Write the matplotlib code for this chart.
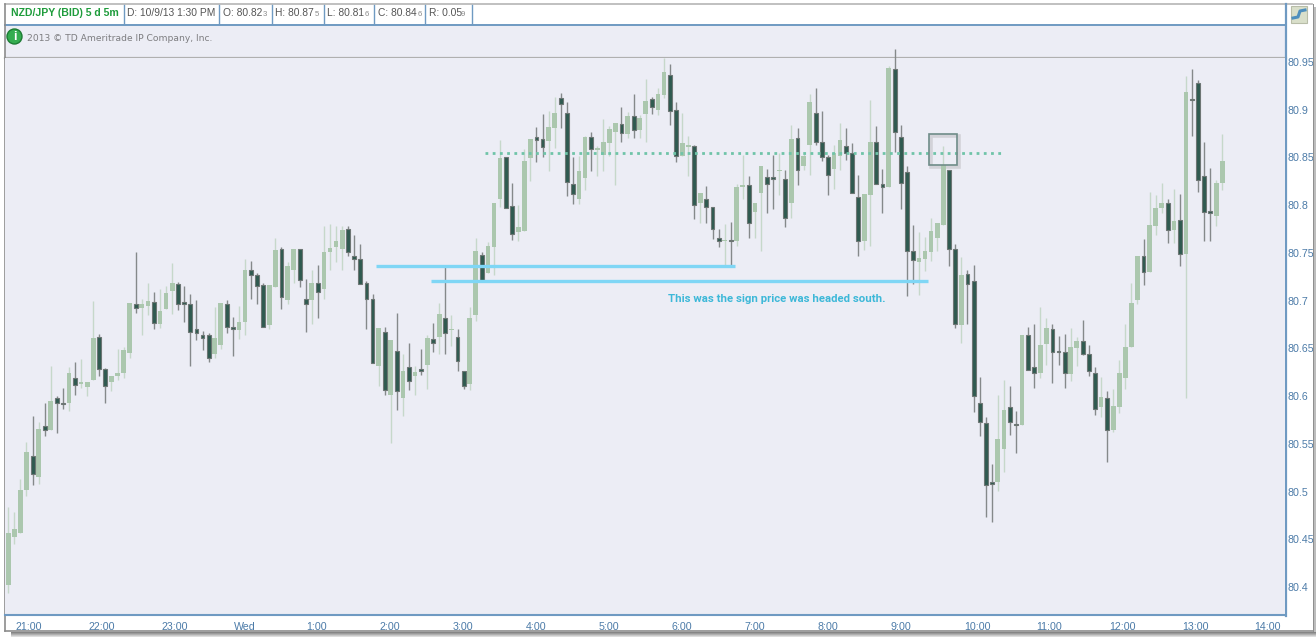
import matplotlib
matplotlib.use("Agg")
import matplotlib.pyplot as plt
from matplotlib.patches import Rectangle, Circle

# 5 minute bars, NZD/JPY
opens = [80.402, 80.452, 80.457, 80.502, 80.537, 80.515, 80.569, 80.565, 80.598, 80.593,
         80.593, 80.619, 80.613, 80.610, 80.617, 80.662, 80.628, 80.615, 80.621, 80.624,
         80.645, 80.697, 80.692, 80.694, 80.699, 80.676, 80.691, 80.710, 80.717, 80.699,
         80.697, 80.670, 80.664, 80.664, 80.644, 80.654, 80.696, 80.672, 80.669, 80.678,
         80.732, 80.727, 80.716, 80.675, 80.714, 80.754, 80.701, 80.732, 80.754, 80.702,
         80.701, 80.718, 80.712, 80.751, 80.756, 80.754, 80.775, 80.747, 80.744, 80.719,
         80.702, 80.632, 80.667, 80.601, 80.647, 80.598, 80.631, 80.621, 80.628, 80.633,
         80.660, 80.662, 80.682, 80.669, 80.662, 80.626, 80.613, 80.685, 80.748, 80.729,
         80.756, 80.807, 80.850, 80.799, 80.772, 80.773, 80.849, 80.871, 80.869, 80.867,
         80.881, 80.912, 80.897, 80.822, 80.806, 80.829, 80.871, 80.858, 80.853, 80.865,
         80.877, 80.885, 80.875, 80.893, 80.879, 80.896, 80.911, 80.900, 80.915, 80.936,
         80.900, 80.852, 80.861, 80.862, 80.802, 80.807, 80.798, 80.766, 80.762, 80.764,
         80.763, 80.819, 80.821, 80.793, 80.813, 80.830, 80.830, 80.836, 80.827, 80.802,
         80.870, 80.841, 80.863, 80.897, 80.866, 80.851, 80.838, 80.852, 80.862, 80.855,
         80.809, 80.762, 80.811, 80.866, 80.822, 80.819, 80.943, 80.871, 80.835, 80.752,
         80.741, 80.744, 80.751, 80.766, 80.779, 80.837, 80.754, 80.675, 80.728, 80.721,
         80.593, 80.572, 80.510, 80.510, 80.545, 80.589, 80.571, 80.570, 80.664, 80.630,
         80.624, 80.655, 80.670, 80.647, 80.646, 80.623, 80.650, 80.658, 80.644, 80.624,
         80.589, 80.598, 80.565, 80.589, 80.619, 80.651, 80.701, 80.747, 80.730, 80.778,
         80.797, 80.802, 80.774, 80.784, 80.749, 80.911, 80.928, 80.831, 80.794, 80.789, 80.823]
highs = [80.484, 80.479, 80.513, 80.552, 80.579, 80.573, 80.593, 80.632, 80.600, 80.608,
         80.630, 80.636, 80.639, 80.615, 80.700, 80.665, 80.629, 80.621, 80.649, 80.651,
         80.698, 80.751, 80.702, 80.718, 80.709, 80.712, 80.715, 80.739, 80.720, 80.715,
         80.707, 80.701, 80.668, 80.666, 80.693, 80.698, 80.701, 80.683, 80.694, 80.744,
         80.742, 80.729, 80.719, 80.716, 80.766, 80.756, 80.741, 80.754, 80.754, 80.723,
         80.732, 80.737, 80.778, 80.780, 80.778, 80.778, 80.778, 80.769, 80.759, 80.721,
         80.707, 80.671, 80.672, 80.659, 80.687, 80.644, 80.656, 80.632, 80.649, 80.664,
         80.677, 80.698, 80.736, 80.685, 80.670, 80.626, 80.693, 80.766, 80.751, 80.761,
         80.802, 80.868, 80.850, 80.823, 80.800, 80.859, 80.869, 80.882, 80.896, 80.899,
         80.913, 80.918, 80.908, 80.851, 80.852, 80.873, 80.877, 80.862, 80.890, 80.883,
         80.886, 80.903, 80.898, 80.916, 80.894, 80.932, 80.913, 80.923, 80.954, 80.948,
         80.908, 80.897, 80.872, 80.863, 80.813, 80.820, 80.798, 80.775, 80.780, 80.782,
         80.822, 80.853, 80.831, 80.802, 80.841, 80.838, 80.853, 80.855, 80.837, 80.884,
         80.881, 80.856, 80.917, 80.923, 80.899, 80.853, 80.863, 80.886, 80.881, 80.865,
         80.832, 80.812, 80.910, 80.883, 80.838, 80.946, 80.964, 80.884, 80.841, 80.779,
         80.772, 80.767, 80.787, 80.781, 80.862, 80.837, 80.759, 80.746, 80.732, 80.737,
         80.620, 80.578, 80.529, 80.601, 80.617, 80.611, 80.584, 80.664, 80.672, 80.676,
         80.693, 80.682, 80.676, 80.663, 80.665, 80.671, 80.662, 80.680, 80.654, 80.631,
         80.620, 80.605, 80.607, 80.638, 80.676, 80.719, 80.747, 80.765, 80.814, 80.811,
         80.823, 80.806, 80.817, 80.812, 80.935, 80.943, 80.931, 80.866, 80.839, 80.826, 80.875]
lows = [80.394, 80.445, 80.457, 80.495, 80.507, 80.508, 80.558, 80.565, 80.561, 80.586,
        80.584, 80.601, 80.608, 80.600, 80.617, 80.621, 80.593, 80.605, 80.617, 80.619,
        80.640, 80.687, 80.664, 80.685, 80.670, 80.671, 80.691, 80.686, 80.690, 80.678,
        80.632, 80.659, 80.648, 80.636, 80.640, 80.649, 80.666, 80.642, 80.660, 80.664,
        80.702, 80.696, 80.672, 80.670, 80.714, 80.691, 80.697, 80.718, 80.714, 80.667,
        80.676, 80.682, 80.702, 80.732, 80.741, 80.732, 80.747, 80.732, 80.717, 80.670,
        80.635, 80.611, 80.601, 80.551, 80.585, 80.579, 80.606, 80.601, 80.622, 80.607,
        80.646, 80.644, 80.644, 80.652, 80.626, 80.607, 80.606, 80.679, 80.722, 80.729,
        80.727, 80.798, 80.797, 80.764, 80.762, 80.773, 80.825, 80.845, 80.851, 80.836,
        80.860, 80.881, 80.810, 80.801, 80.801, 80.816, 80.836, 80.831, 80.836, 80.852,
        80.821, 80.866, 80.870, 80.870, 80.870, 80.866, 80.896, 80.895, 80.912, 80.884,
        80.845, 80.852, 80.831, 80.786, 80.781, 80.781, 80.765, 80.756, 80.736, 80.736,
        80.757, 80.807, 80.766, 80.766, 80.752, 80.792, 80.796, 80.811, 80.777, 80.787,
        80.821, 80.837, 80.832, 80.863, 80.846, 80.811, 80.817, 80.837, 80.847, 80.813,
        80.747, 80.753, 80.757, 80.822, 80.792, 80.819, 80.856, 80.796, 80.705, 80.717,
        80.706, 80.731, 80.742, 80.752, 80.779, 80.736, 80.671, 80.656, 80.676, 80.583,
        80.558, 80.473, 80.468, 80.501, 80.521, 80.559, 80.540, 80.570, 80.627, 80.608,
        80.619, 80.633, 80.614, 80.633, 80.608, 80.616, 80.632, 80.643, 80.621, 80.580,
        80.578, 80.531, 80.562, 80.582, 80.607, 80.651, 80.696, 80.716, 80.730, 80.769,
        80.792, 80.760, 80.760, 80.736, 80.598, 80.872, 80.814, 80.763, 80.763, 80.778, 80.816]
closes = [80.457, 80.461, 80.502, 80.541, 80.518, 80.566, 80.564, 80.595, 80.593, 80.592,
          80.624, 80.612, 80.615, 80.615, 80.661, 80.628, 80.611, 80.621, 80.624, 80.648,
          80.698, 80.692, 80.696, 80.700, 80.677, 80.689, 80.708, 80.718, 80.696, 80.697,
          80.667, 80.666, 80.661, 80.640, 80.661, 80.698, 80.672, 80.670, 80.678, 80.732,
          80.727, 80.715, 80.672, 80.716, 80.753, 80.704, 80.736, 80.754, 80.722, 80.697,
          80.718, 80.709, 80.751, 80.755, 80.763, 80.774, 80.751, 80.744, 80.717, 80.702,
          80.635, 80.671, 80.606, 80.659, 80.605, 80.626, 80.616, 80.625, 80.626, 80.661,
          80.656, 80.686, 80.666, 80.670, 80.637, 80.611, 80.682, 80.752, 80.722, 80.757,
          80.802, 80.849, 80.797, 80.770, 80.777, 80.846, 80.869, 80.868, 80.861, 80.882,
          80.897, 80.906, 80.824, 80.812, 80.836, 80.871, 80.859, 80.860, 80.866, 80.880,
          80.886, 80.876, 80.893, 80.879, 80.891, 80.909, 80.903, 80.917, 80.940, 80.899,
          80.852, 80.865, 80.863, 80.800, 80.813, 80.798, 80.775, 80.762, 80.764, 80.762,
          80.819, 80.821, 80.781, 80.802, 80.841, 80.822, 80.827, 80.837, 80.787, 80.869,
          80.837, 80.852, 80.908, 80.866, 80.851, 80.832, 80.855, 80.868, 80.855, 80.813,
          80.762, 80.812, 80.866, 80.822, 80.819, 80.944, 80.877, 80.823, 80.752, 80.743,
          80.745, 80.752, 80.773, 80.781, 80.842, 80.754, 80.676, 80.727, 80.717, 80.600,
          80.573, 80.507, 80.508, 80.555, 80.585, 80.573, 80.570, 80.664, 80.627, 80.624,
          80.654, 80.671, 80.646, 80.646, 80.624, 80.651, 80.658, 80.644, 80.626, 80.586,
          80.599, 80.565, 80.590, 80.624, 80.651, 80.698, 80.747, 80.730, 80.779, 80.797,
          80.802, 80.774, 80.783, 80.749, 80.919, 80.910, 80.826, 80.793, 80.792, 80.823, 80.846]

price_ticks = [80.4, 80.45, 80.5, 80.55, 80.6, 80.65, 80.7, 80.75, 80.8, 80.85, 80.9, 80.95]
price_labels = ["80.4", "80.45", "80.5", "80.55", "80.6", "80.65", "80.7", "80.75", "80.8", "80.85", "80.9", "80.95"]
time_ticks = [3.4, 15.4, 27.4, 39, 50.8, 62.9, 74.9, 86.9, 98.9, 111, 123, 135, 147, 159.6, 171.5, 183.5, 195.5, 207.4]
time_labels = ["21:00", "22:00", "23:00", "Wed", "1:00", "2:00", "3:00", "4:00", "5:00", "6:00",
               "7:00", "8:00", "9:00", "10:00", "11:00", "12:00", "13:00", "14:00"]

W, H = 1316, 637
BG = "#ecedf5"
BLUE = "#6f9ac2"
UP_BODY = "#abc7ae"
UP_WICK = "#c6d8ca"
DOWN_BODY = "#2f5a50"
DOWN_WICK = "#85898a"

plt.rcParams["font.family"] = ["Liberation Sans", "DejaVu Sans"]
fig = plt.figure(figsize=(W / 100, H / 100), dpi=100, facecolor="white")


def pixel_axes(zorder):
    a = fig.add_axes([0, 0, 1, 1], zorder=zorder)
    a.set_xlim(0, W)
    a.set_ylim(H, 0)
    a.axis("off")
    return a


# window chrome behind the chart
back = pixel_axes(0)
back.add_patch(Rectangle((5, 25), 1281, 33, color=BG, lw=0))
back.plot([5, 1312], [4, 4], color="#b5b5b5", lw=1.2)
back.plot([5, 1286], [24.5, 24.5], color=BLUE, lw=1.4)
back.plot([5, 1286], [57.5, 57.5], color="#b0b0b0", lw=1.6)
back.plot([4.5, 4.5], [4, 631], color="#8c8c8c", lw=1.2)
back.plot([1286, 1286], [4, 616], color=BLUE, lw=1.6)
for sep in [124, 219, 272, 324, 374, 425, 472]:
    back.plot([sep, sep], [5, 24], color=BLUE, lw=1.0)

back.text(11, 13.5, "NZD/JPY (BID) 5 d 5m", color="#1f9c3c", fontsize=7.6, fontweight="bold", va="center")
back.text(127, 13.5, "D: 10/9/13 1:30 PM", color="#555555", fontsize=7.4, va="center")
for x, txt, digit_x, last in [(223, "O: 80.82", 263, "3"), (275, "H: 80.87", 315, "5"), (327, "L: 80.81", 365, "6"),
                              (378, "C: 80.84", 418, "6"), (429, "R: 0.05", 461, "9")]:
    back.text(x, 13.5, txt, color="#555555", fontsize=7.4, va="center")
    back.text(digit_x, 14.5, last, color="#8a8a8a", fontsize=5.6, va="center")

back.add_patch(Circle((14.5, 36.5), 7.5, facecolor="#35ad50", edgecolor="#1d7c34", lw=1))
back.text(14.5, 36.5, "i", color="white", fontsize=9, fontweight="bold", ha="center", va="center")
back.text(27, 38.5, "2013 © TD Ameritrade IP Company, Inc.", color="#7d7d80", fontsize=6.6,
          family="DejaVu Sans", va="center")

# expand icon, top right
back.add_patch(Rectangle((1291, 6), 16, 17, facecolor="#d9dfca", edgecolor="#b8bda8", lw=0.8))
back.plot([1293, 1298, 1300, 1305], [18, 17, 11, 10], color="#4e8fbe", lw=2.2)

# the chart itself
ax = fig.add_axes([5 / W, 1 - 615 / H, 1280 / W, 557 / H], zorder=1, facecolor=BG)
ax.set_xlim(-0.54, 210.3)
ax.set_ylim(80.3707, 80.9542)

# box shadow goes under the candles
ax.add_patch(Rectangle((152.0, 80.8395), 4.6, 0.033, facecolor="none", edgecolor="#d2d2d8", lw=2.6, zorder=1))

for i in range(len(opens)):
    o, h, l, c = opens[i], highs[i], lows[i], closes[i]
    if c >= o:
        ax.vlines(i, l, h, color=UP_WICK, lw=1.0, clip_on=False, zorder=2)
        ax.bar(i, c - o, bottom=o, width=0.78, color=UP_BODY, lw=0, zorder=3)
    else:
        ax.vlines(i, l, h, color=DOWN_WICK, lw=1.0, clip_on=False, zorder=4)
        ax.bar(i, o - c, bottom=c, width=0.64, color=DOWN_BODY, edgecolor="#6d7674", lw=0.8, zorder=5)

# annotations
ax.plot([60.6, 119.7], [80.736, 80.736], color="#7fd6f5", lw=2.4, solid_capstyle="butt", zorder=6)
ax.plot([69.6, 151.5], [80.721, 80.721], color="#7fd6f5", lw=2.4, solid_capstyle="butt", zorder=6)
ax.plot([78.5, 163.7], [80.855, 80.855], color="#6fc4a8", lw=2.0, ls=(0, (1, 1.6)), zorder=6)
ax.add_patch(Rectangle((151.7, 80.842), 4.6, 0.033, facecolor="none", edgecolor="#6f8c88", lw=1.2, zorder=6))
ax.text(108.7, 80.702, "This was the sign price was headed south.", color="#3db8d8", fontsize=8.2,
        family="Roboto", fontweight="bold", va="center", zorder=6)

ax.yaxis.tick_right()
ax.set_yticks(price_ticks, price_labels)
ax.set_xticks(time_ticks, time_labels)
ax.tick_params(axis="y", length=0, pad=2, labelsize=7.7, labelcolor="#4c7ba8")
ax.tick_params(axis="x", length=0, pad=5, labelsize=7.7, labelcolor="#4c7ba8")
for side in ["top", "left", "right"]:
    ax.spines[side].set_visible(False)
ax.spines["bottom"].set_color(BLUE)
ax.spines["bottom"].set_linewidth(1.5)

# drop shadow along the right and bottom edge
front = pixel_axes(2)
front.add_patch(Rectangle((1313, 4), 1.2, 628, color="#8f8f8f", lw=0))
front.add_patch(Rectangle((1314.2, 7), 1.8, 630, color="#bdbdbd", lw=0))
front.plot([4.5, 1313], [631, 631], color="#8c8c8c", lw=1.2)
for k, shade in enumerate(["#858585", "#9a9a9a", "#b0b0b0", "#c8c8c8", "#dedede"]):
    front.add_patch(Rectangle((11, 632 + k), 1305, 1, color=shade, lw=0))

fig.savefig("out.png", dpi=100)
